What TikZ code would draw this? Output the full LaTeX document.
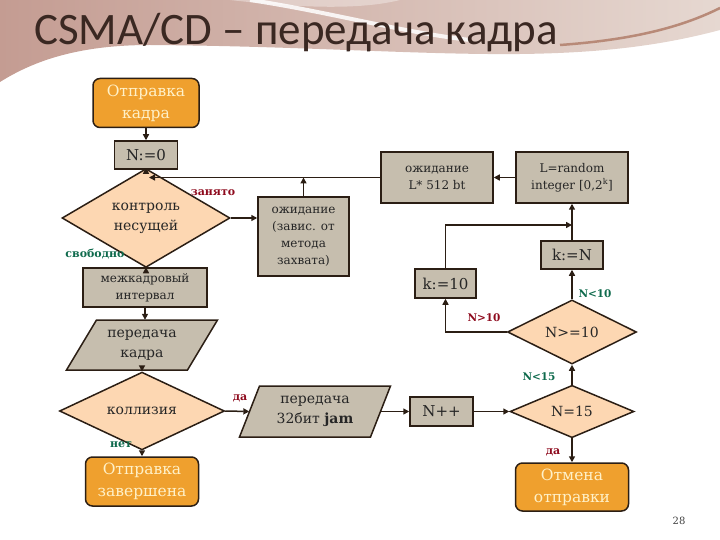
\documentclass[tikz,border=0pt]{standalone}
\usepackage{fontspec}
\setmainfont{DejaVu Serif}
\newfontfamily\titlefont{Carlito}
\usetikzlibrary{shapes.geometric,arrows.meta,calc}
\definecolor{bd}{HTML}{2B1E14}
\definecolor{orng}{HTML}{EFA02E}
\definecolor{cream}{HTML}{FFF1C8}
\definecolor{graybox}{HTML}{C6BEAE}
\definecolor{peach}{HTML}{FDD7B2}
\definecolor{lblred}{HTML}{8E0B1E}
\definecolor{lblgreen}{HTML}{0E6A4C}
\definecolor{titlec}{HTML}{3A2822}
\definecolor{bgL}{HTML}{C49C92}
\definecolor{bgR}{HTML}{E6D8D1}
\definecolor{bgline}{HTML}{B88A78}
\begin{document}
\begin{tikzpicture}[x=1pt,y=-1pt,
  proc/.style={rectangle, draw=bd, line width=1.5pt, fill=graybox, inner sep=0pt, align=center, text=black!85},
  term/.style={rectangle, rounded corners=7pt, draw=bd, line width=1.5pt, fill=orng, text=cream, inner sep=0pt, align=center, font=\fontsize{15.5}{22}\selectfont},
  dec/.style={diamond, draw=bd, line width=1.5pt, fill=peach, inner sep=0pt, align=center, text=black!85},
  para/.style={draw=bd, line width=1.5pt, fill=graybox},
  plain/.style={rectangle, inner sep=0pt, align=center, text=black!85},
  arr/.style={-{Triangle[length=6pt,width=6pt]}, line width=1.5pt, draw=bd},
  lbl/.style={font=\bfseries\fontsize{11}{13}\selectfont},
  lbn/.style={font=\bfseries\fontsize{10.5}{13}\selectfont},
  fA/.style={font=\fontsize{14}{20}\selectfont},
  fB/.style={font=\fontsize{12}{17}\selectfont},
  fC/.style={font=\fontsize{15}{20}\selectfont}]
\useasboundingbox (0,0) rectangle (720,540);
% background swoosh
\shade[left color=bgL, right color=bgR] (0,0) -- (720,0) -- (720,30)
  .. controls (660,46) and (600,53) .. (520,54)
  .. controls (420,55) and (300,46) .. (150,45)
  .. controls (80,45) and (35,60) .. (0,82) -- cycle;
\draw[white, line width=4pt, opacity=0.85] (250,0) .. controls (330,12) and (400,32) .. (470,40);
\fill[white, opacity=0.35] (230,0) .. controls (300,8) and (360,10) .. (400,0) -- cycle;
\draw[bgline, line width=2.5pt] (560,45) .. controls (630,40) and (680,28) .. (720,8);
% title
\node[anchor=base west, font=\titlefont\fontsize{45}{45}\selectfont, text=titlec, inner sep=0pt] (title) at (34,45) {CSMA/CD – передача кадра};
% nodes
\node[term, minimum width=106, minimum height=49] (ok) at (146,103) {Отправка\\кадра};
\node[proc, fC, minimum width=63, minimum height=28] (n0) at (146,155) {N:=0};
\node[dec, fA, minimum width=168, minimum height=64] (ctrl) at (146,218) {контроль\\несущей};
\node[proc, fB, minimum width=91, minimum height=79] (wait1) at (303.5,236.5) {ожидание\\(завис. от\\метода\\захвата)};
\node[proc, fB, minimum width=124, minimum height=39] (mkd) at (145,287.5) {межкадровый\\интервал};
\path[para] (96.5,320) -- (217.5,320) -- (187.5,370) -- (66.5,370) -- cycle;
\node[plain, fA, minimum width=121, minimum height=50] (pk) at (142,345) {передача\\кадра};
\node[dec, fA, minimum width=165, minimum height=54] (coll) at (142,411) {коллизия};
\path[para] (259.5,386) -- (390.5,386) -- (370.5,437) -- (239.5,437) -- cycle;
\node[plain, fA, minimum width=131, minimum height=51] (jam) at (315,411.5) {передача\\32бит \textbf{jam}};
\node[term, minimum width=113, minimum height=49] (done) at (142,481.5) {Отправка\\завершена};
\node[proc, fC, minimum width=63, minimum height=29] (npp) at (441.5,411.5) {N++};
\node[dec, fA, minimum width=124, minimum height=49] (n15) at (572,411.5) {N=15};
\node[dec, fA, minimum width=129, minimum height=50] (n10) at (572,332) {N>=10};
\node[term, minimum width=113, minimum height=48] (cancel) at (572,487) {Отмена\\отправки};
\node[proc, fC, minimum width=61, minimum height=29] (k10) at (445.5,283.5) {k:=10};
\node[proc, fC, minimum width=62, minimum height=28] (kN) at (572,255) {k:=N};
\node[proc, fB, minimum width=112, minimum height=51] (rnd) at (572,177.5) {L=random\\integer [0,2\textsuperscript{k}]};
\node[proc, fB, minimum width=112, minimum height=51] (wait2) at (437,177.5) {ожидание\\L* 512 bt};
\coordinate (j2) at (572,225);
% connectors
\draw[arr] (ok) -- (n0);
\draw[arr] (n0) -- (ctrl);
\draw[arr] (wait2.west) -- ($(wait2.west -| n0.south)+(3,0)$);
\draw[arr] (wait1.north) -- (wait1.north |- wait2.west);
\draw[arr] (ctrl.east) -- (ctrl.east -| wait1.west);
\draw[arr] (ctrl.south) -- (mkd.north -| ctrl.south);
\draw[arr] (mkd.south) -- (mkd.south |- pk.north);
\draw[arr] (pk.south) -- (coll.north);
\draw[arr] (coll.east) -- (jam.west);
\draw[arr] (coll.south) -- (done.north);
\draw[arr] (jam.east) -- (npp.west);
\draw[arr] (npp.east) -- (n15.west);
\draw[arr] (n15.south) -- (cancel.north);
\draw[arr] (n15.north) -- (n10.south);
\draw[arr] (n10.west) -| (k10.south);
\draw[arr] (n10.north) -- (kN.south);
\draw[arr] (kN.north) -- (rnd.south);
\draw[arr] (k10.north) |- (j2);
\draw[arr] (rnd.west) -- (wait2.east);
% labels
\node[lbl, text=lblred] (l1) at (213,193) {занято};
\node[lbl, text=lblgreen] (l2) at (95,254) {свободно};
\node[lbl, text=lblred] (l3) at (240,398) {да};
\node[lbl, text=lblgreen] (l4) at (121,445) {нет};
\node[lbl, text=lblred] (l5) at (553,452) {да};
\node[lbn, text=lblgreen] (l6) at (539,377) {N<15};
\node[lbn, text=lblred] (l7) at (484,318) {N>10};
\node[lbn, text=lblgreen] (l8) at (595,294) {N<10};
\node[font=\fontsize{10}{12}\selectfont, text=black!75] (pg) at (679,521) {28};
\end{tikzpicture}
\end{document}
